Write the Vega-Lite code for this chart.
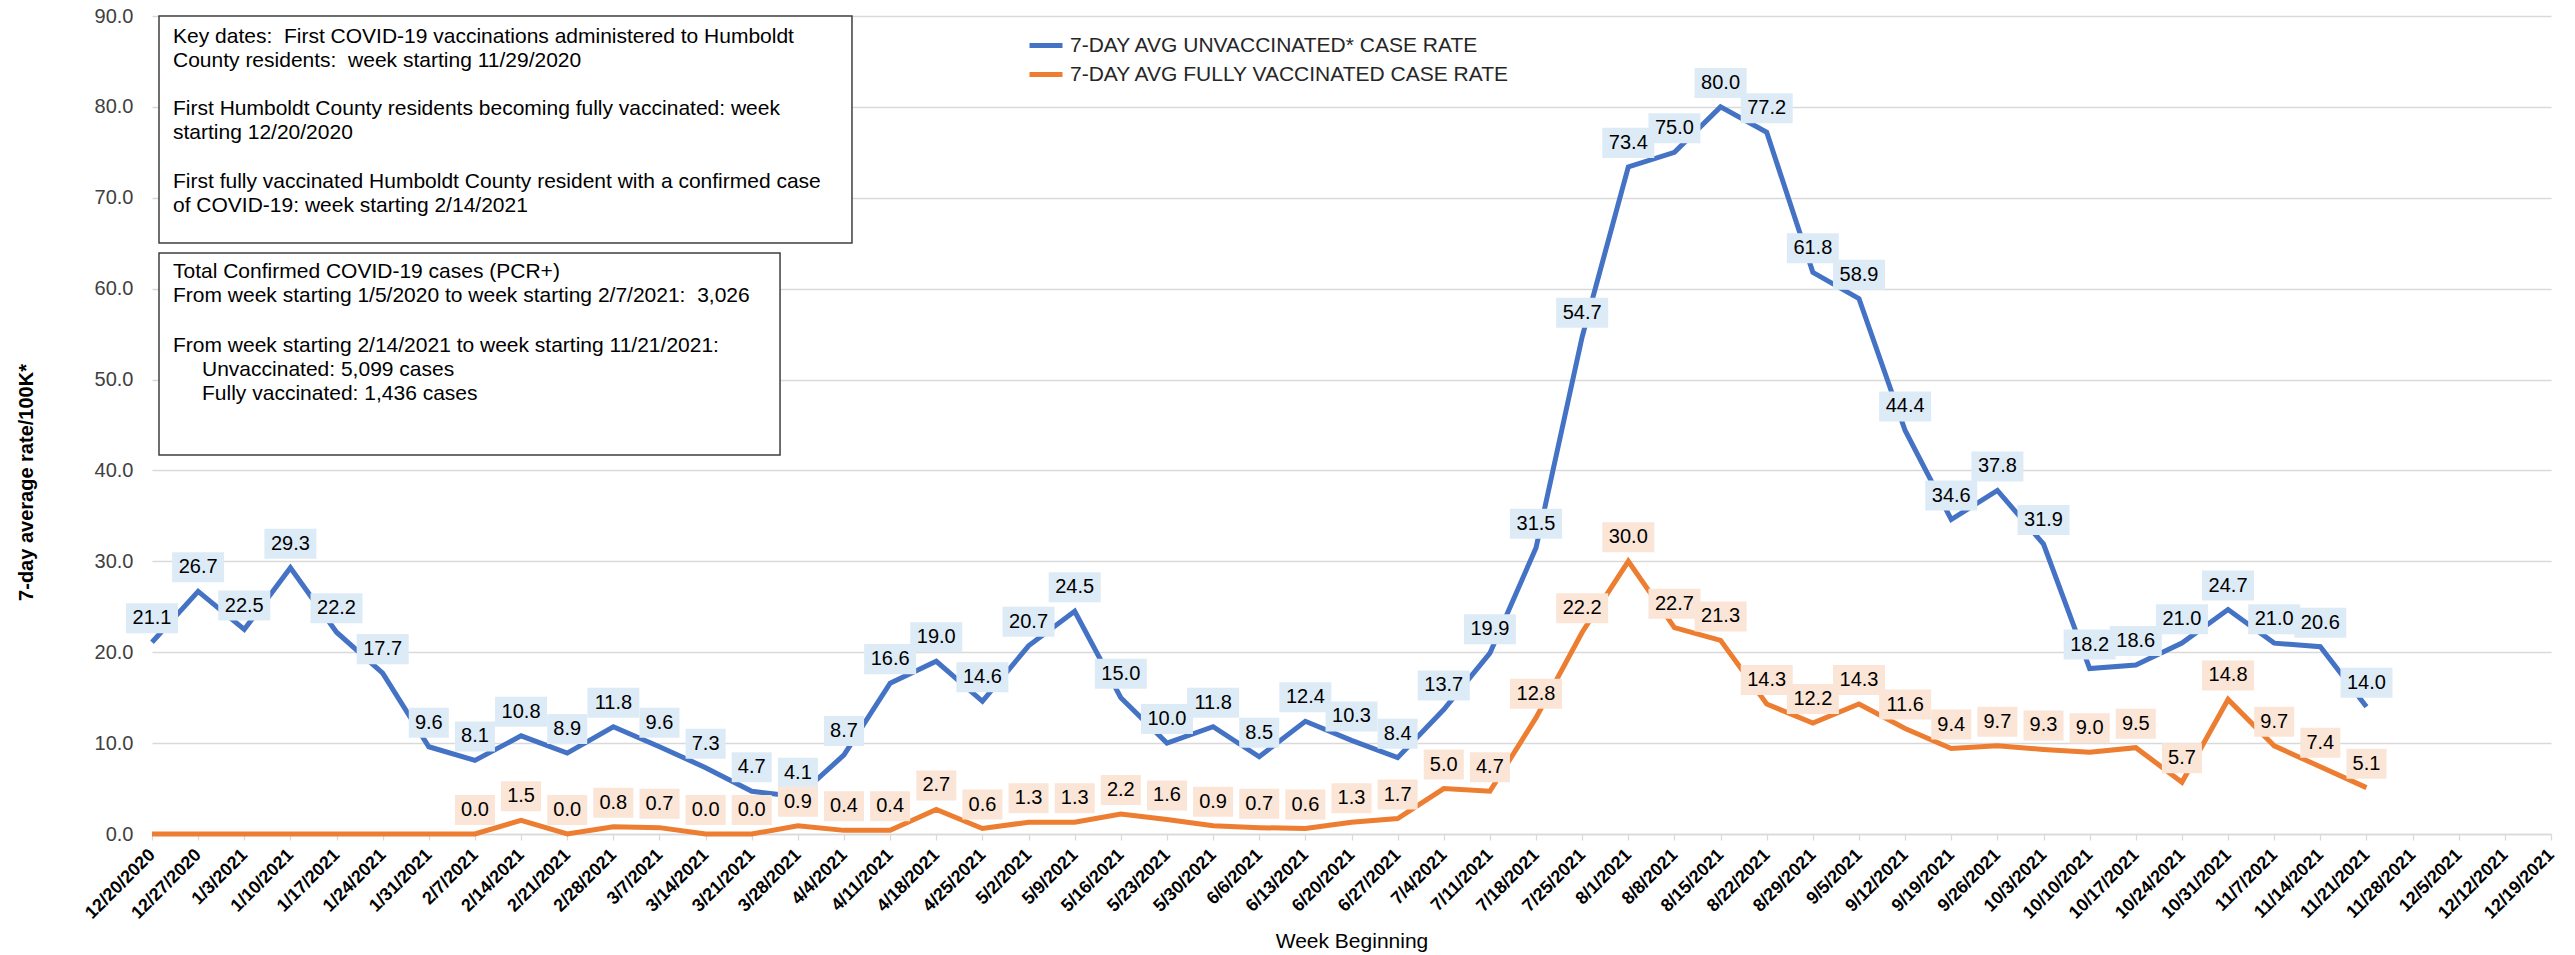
{
  "$schema": "https://vega.github.io/schema/vega-lite/v6.json",
  "width": 2399,
  "height": 818,
  "autosize": {"type": "none"},
  "padding": {"left": 152, "top": 16, "right": 24, "bottom": 121},
  "background": "white",
  "config": {
    "font": "Liberation Sans",
    "view": {"stroke": null}
  },
  "layer": [
    {
      "data": {
        "format": {"parse": {"week": "date:'%Y-%m-%d'"}},
        "values": [
          {"week": "2020-12-20", "U": 21.1, "V": 0},
          {"week": "2020-12-27", "U": 26.7, "V": 0},
          {"week": "2021-01-03", "U": 22.5, "V": 0},
          {"week": "2021-01-10", "U": 29.3, "V": 0},
          {"week": "2021-01-17", "U": 22.2, "V": 0},
          {"week": "2021-01-24", "U": 17.7, "V": 0},
          {"week": "2021-01-31", "U": 9.6, "V": 0},
          {"week": "2021-02-07", "U": 8.1, "V": 0.0},
          {"week": "2021-02-14", "U": 10.8, "V": 1.5},
          {"week": "2021-02-21", "U": 8.9, "V": 0.0},
          {"week": "2021-02-28", "U": 11.8, "V": 0.8},
          {"week": "2021-03-07", "U": 9.6, "V": 0.7},
          {"week": "2021-03-14", "U": 7.3, "V": 0.0},
          {"week": "2021-03-21", "U": 4.7, "V": 0.0},
          {"week": "2021-03-28", "U": 4.1, "V": 0.9},
          {"week": "2021-04-04", "U": 8.7, "V": 0.4},
          {"week": "2021-04-11", "U": 16.6, "V": 0.4},
          {"week": "2021-04-18", "U": 19.0, "V": 2.7},
          {"week": "2021-04-25", "U": 14.6, "V": 0.6},
          {"week": "2021-05-02", "U": 20.7, "V": 1.3},
          {"week": "2021-05-09", "U": 24.5, "V": 1.3},
          {"week": "2021-05-16", "U": 15.0, "V": 2.2},
          {"week": "2021-05-23", "U": 10.0, "V": 1.6},
          {"week": "2021-05-30", "U": 11.8, "V": 0.9},
          {"week": "2021-06-06", "U": 8.5, "V": 0.7},
          {"week": "2021-06-13", "U": 12.4, "V": 0.6},
          {"week": "2021-06-20", "U": 10.3, "V": 1.3},
          {"week": "2021-06-27", "U": 8.4, "V": 1.7},
          {"week": "2021-07-04", "U": 13.7, "V": 5.0},
          {"week": "2021-07-11", "U": 19.9, "V": 4.7},
          {"week": "2021-07-18", "U": 31.5, "V": 12.8},
          {"week": "2021-07-25", "U": 54.7, "V": 22.2},
          {"week": "2021-08-01", "U": 73.4, "V": 30.0},
          {"week": "2021-08-08", "U": 75.0, "V": 22.7},
          {"week": "2021-08-15", "U": 80.0, "V": 21.3},
          {"week": "2021-08-22", "U": 77.2, "V": 14.3},
          {"week": "2021-08-29", "U": 61.8, "V": 12.2},
          {"week": "2021-09-05", "U": 58.9, "V": 14.3},
          {"week": "2021-09-12", "U": 44.4, "V": 11.6},
          {"week": "2021-09-19", "U": 34.6, "V": 9.4},
          {"week": "2021-09-26", "U": 37.8, "V": 9.7},
          {"week": "2021-10-03", "U": 31.9, "V": 9.3},
          {"week": "2021-10-10", "U": 18.2, "V": 9.0},
          {"week": "2021-10-17", "U": 18.6, "V": 9.5},
          {"week": "2021-10-24", "U": 21.0, "V": 5.7},
          {"week": "2021-10-31", "U": 24.7, "V": 14.8},
          {"week": "2021-11-07", "U": 21.0, "V": 9.7},
          {"week": "2021-11-14", "U": 20.6, "V": 7.4},
          {"week": "2021-11-21", "U": 14.0, "V": 5.1}
        ]
      },
      "transform": [{"fold": ["U", "V"], "as": ["series", "rate"]}],
      "encoding": {
        "x": {
          "field": "week",
          "type": "temporal",
          "scale": {
            "domain": [{"year": 2020, "month": 12, "date": 20}, {"year": 2021, "month": 12, "date": 19}],
            "nice": false
          },
          "axis": {
            "format": "%-m/%-d/%Y",
            "tickCount": {"interval": "week", "step": 1},
            "grid": false,
            "domain": true,
            "domainColor": "#d9d9d9",
            "domainWidth": 1.3,
            "ticks": true,
            "tickColor": "#d9d9d9",
            "tickWidth": 1.3,
            "tickSize": 6,
            "labelAngle": -45,
            "labelAlign": "right",
            "labelBaseline": "middle",
            "labelPadding": 12,
            "labelFontSize": 18,
            "labelFontWeight": "bold",
            "labelColor": "#000000",
            "labelOverlap": false,
            "labelFlush": false,
            "labelBound": false,
            "title": "Week Beginning",
            "titleFontSize": 21,
            "titleFontWeight": "normal",
            "titleColor": "#000000",
            "titleBaseline": "alphabetic",
            "titleY": 113
          }
        },
        "y": {
          "field": "rate",
          "type": "quantitative",
          "scale": {"domain": [0, 90], "nice": false},
          "axis": {
            "values": [0, 10, 20, 30, 40, 50, 60, 70, 80, 90],
            "format": ".1f",
            "domain": false,
            "ticks": false,
            "tickSize": 0,
            "labelPadding": 19,
            "labelFontSize": 20,
            "labelColor": "#404040",
            "grid": true,
            "gridColor": "#d9d9d9",
            "gridWidth": 1.3,
            "title": "7-day average rate/100K*",
            "titleFontSize": 20,
            "titleFontWeight": "bold",
            "titleColor": "#000000",
            "titleAngle": -90,
            "titleBaseline": "alphabetic",
            "titleAlign": "center",
            "titleX": -120,
            "titleY": 466
          }
        }
      },
      "layer": [
        {
          "mark": {"type": "line", "strokeWidth": 5},
          "encoding": {
            "color": {
              "field": "series",
              "type": "nominal",
              "scale": {"domain": ["U", "V"], "range": ["#4472C4", "#ED7D31"]},
              "legend": {
                "orient": "none",
                "legendX": 875,
                "legendY": 10.5,
                "title": null,
                "padding": 0,
                "symbolType": "stroke",
                "symbolStrokeWidth": 5,
                "symbolSize": 1089,
                "labelFontSize": 21,
                "labelColor": "#262626",
                "labelOffset": 5,
                "rowPadding": 0,
                "labelLimit": 800,
                "labelExpr": "datum.label == 'U' ? '7-DAY AVG UNVACCINATED* CASE RATE' : '7-DAY AVG FULLY VACCINATED CASE RATE'"
              }
            }
          }
        },
        {
          "transform": [{"filter": "datum.series == 'U' || datum.week >= datetime(2021, 1, 6)"}],
          "mark": {"type": "point", "filled": true, "size": 2704, "yOffset": -24, "opacity": 1, "strokeWidth": 0},
          "encoding": {
            "shape": {
              "condition": {"test": "datum.rate >= 10", "value": "M-1,-0.577L1,-0.577L1,0.577L-1,0.577Z"},
              "value": "M-0.77,-0.577L0.77,-0.577L0.77,0.577L-0.77,0.577Z"
            },
            "fill": {
              "condition": {"test": "datum.series == 'U'", "value": "#DDEBF7"},
              "value": "#FBE5D6"
            }
          }
        },
        {
          "transform": [{"filter": "datum.series == 'U' || datum.week >= datetime(2021, 1, 6)"}],
          "mark": {"type": "text", "fontSize": 20, "dy": -24, "align": "center", "baseline": "middle", "color": "#000000"},
          "encoding": {
            "text": {"field": "rate", "type": "quantitative", "format": ".1f"}
          }
        }
      ]
    },
    {
      "data": {"values": [{}]},
      "mark": {"type": "rect", "fill": "white", "stroke": "#3f3f3f", "strokeWidth": 1.5},
      "encoding": {
        "x": {"datum": {"year": 2020, "month": 12, "date": 21, "hours": 1, "minutes": 30}, "type": "temporal"},
        "x2": {"datum": {"year": 2021, "month": 4, "date": 5, "hours": 5}},
        "y": {"datum": 90, "type": "quantitative"},
        "y2": {"datum": 65.02}
      }
    },
    {
      "data": {"values": [{}]},
      "mark": {"type": "rect", "fill": "white", "stroke": "#3f3f3f", "strokeWidth": 1.5},
      "encoding": {
        "x": {"datum": {"year": 2020, "month": 12, "date": 21, "hours": 1, "minutes": 30}, "type": "temporal"},
        "x2": {"datum": {"year": 2021, "month": 3, "date": 25, "hours": 7}},
        "y": {"datum": 63.92, "type": "quantitative"},
        "y2": {"datum": 41.7}
      }
    },
    {
      "data": {"values": [{}]},
      "mark": {
        "type": "text", "align": "left", "baseline": "alphabetic", "fontSize": 21, "lineHeight": 24, "color": "#000000",
        "text": [
          "Key dates:\u00a0 First COVID-19 vaccinations administered to Humboldt",
          "County residents:\u00a0 week starting 11/29/2020"
        ]
      },
      "encoding": {
        "x": {"datum": {"year": 2020, "month": 12, "date": 23, "hours": 4, "minutes": 30}, "type": "temporal"},
        "y": {"datum": 87.03, "type": "quantitative"}
      }
    },
    {
      "data": {"values": [{}]},
      "mark": {
        "type": "text", "align": "left", "baseline": "alphabetic", "fontSize": 21, "lineHeight": 24, "color": "#000000",
        "text": [
          "First Humboldt County residents becoming fully vaccinated: week",
          "starting 12/20/2020"
        ]
      },
      "encoding": {
        "x": {"datum": {"year": 2020, "month": 12, "date": 23, "hours": 4, "minutes": 30}, "type": "temporal"},
        "y": {"datum": 79.11, "type": "quantitative"}
      }
    },
    {
      "data": {"values": [{}]},
      "mark": {
        "type": "text", "align": "left", "baseline": "alphabetic", "fontSize": 21, "lineHeight": 24, "color": "#000000",
        "text": [
          "First fully vaccinated Humboldt County resident with a confirmed case",
          "of COVID-19: week starting 2/14/2021"
        ]
      },
      "encoding": {
        "x": {"datum": {"year": 2020, "month": 12, "date": 23, "hours": 4, "minutes": 30}, "type": "temporal"},
        "y": {"datum": 71.08, "type": "quantitative"}
      }
    },
    {
      "data": {"values": [{}]},
      "mark": {
        "type": "text", "align": "left", "baseline": "alphabetic", "fontSize": 21, "lineHeight": 24.4, "color": "#000000",
        "text": [
          "Total Confirmed COVID-19 cases (PCR+)",
          "From week starting 1/5/2020 to week starting 2/7/2021:\u00a0 3,026"
        ]
      },
      "encoding": {
        "x": {"datum": {"year": 2020, "month": 12, "date": 23, "hours": 4, "minutes": 30}, "type": "temporal"},
        "y": {"datum": 61.17, "type": "quantitative"}
      }
    },
    {
      "data": {"values": [{}]},
      "mark": {
        "type": "text", "align": "left", "baseline": "alphabetic", "fontSize": 21, "color": "#000000",
        "text": "From week starting 2/14/2021 to week starting 11/21/2021:"
      },
      "encoding": {
        "x": {"datum": {"year": 2020, "month": 12, "date": 23, "hours": 4, "minutes": 30}, "type": "temporal"},
        "y": {"datum": 53.03, "type": "quantitative"}
      }
    },
    {
      "data": {"values": [{}]},
      "mark": {
        "type": "text", "align": "left", "baseline": "alphabetic", "fontSize": 21, "lineHeight": 24, "color": "#000000",
        "text": [
          "Unvaccinated: 5,099 cases",
          "Fully vaccinated: 1,436 cases"
        ]
      },
      "encoding": {
        "x": {"datum": {"year": 2020, "month": 12, "date": 27, "hours": 14, "minutes": 10}, "type": "temporal"},
        "y": {"datum": 50.39, "type": "quantitative"}
      }
    }
  ]
}
